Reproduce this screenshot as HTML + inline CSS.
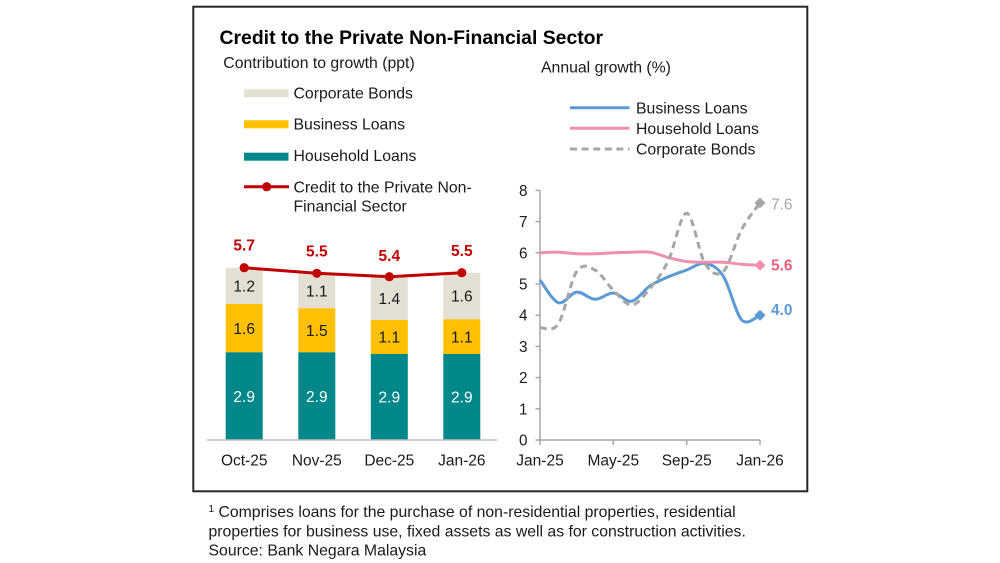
<!DOCTYPE html>
<html>
<head>
<meta charset="utf-8">
<style>
  html, body { margin: 0; padding: 0; background: #ffffff; }
  body { width: 1000px; height: 563px; overflow: hidden; }
  svg { display: block; font-family: "Liberation Sans", Arial, sans-serif; }
</style>
</head>
<body>
<svg width="1000" height="563" viewBox="0 0 1000 563" xmlns="http://www.w3.org/2000/svg">
  <rect x="0" y="0" width="1000" height="563" fill="#ffffff"/>
  <!-- Frame -->
  <rect x="193.3" y="6.7" width="614" height="484.6" fill="none" stroke="#262626" stroke-width="2"/>

  <!-- Title -->
  <text x="219.5" y="44" font-size="19.4" font-weight="bold" fill="#000">Credit to the Private Non-Financial Sector</text>
  <text x="223.3" y="68" font-size="15.8" fill="#1a1a1a">Contribution to growth (ppt)</text>
  <text x="541" y="72.3" font-size="15.8" fill="#1a1a1a">Annual growth (%)</text>

  <!-- Left legend -->
  <rect x="244" y="89.3" width="44.5" height="8" fill="#E4DFD3"/>
  <text x="293.5" y="98.7" font-size="15.8" fill="#1a1a1a">Corporate Bonds</text>
  <rect x="244" y="120.3" width="44.5" height="8" fill="#FFC000"/>
  <text x="293.5" y="129.5" font-size="15.8" fill="#1a1a1a">Business Loans</text>
  <rect x="244" y="152.7" width="44.5" height="8" fill="#00878A"/>
  <text x="293.5" y="161.2" font-size="15.8" fill="#1a1a1a">Household Loans</text>
  <line x1="244" y1="186.7" x2="289" y2="186.7" stroke="#C00000" stroke-width="3"/>
  <circle cx="266.7" cy="186.7" r="4.6" fill="#C00000"/>
  <text x="293.5" y="192.7" font-size="15.8" fill="#1a1a1a">Credit to the Private Non-</text>
  <text x="293.5" y="211.5" font-size="15.8" fill="#1a1a1a">Financial Sector</text>

  <!-- Bars -->
  <!-- Oct-25 -->
  <rect x="225.7" y="267.7" width="37" height="36.3" fill="#E4DFD3"/>
  <rect x="225.7" y="304" width="37" height="48.3" fill="#FFC000"/>
  <rect x="225.7" y="352.3" width="37" height="87.7" fill="#00878A"/>
  <!-- Nov-25 -->
  <rect x="298.3" y="273.3" width="37" height="35" fill="#E4DFD3"/>
  <rect x="298.3" y="308.3" width="37" height="44" fill="#FFC000"/>
  <rect x="298.3" y="352.3" width="37" height="87.7" fill="#00878A"/>
  <!-- Dec-25 -->
  <rect x="370.8" y="276.7" width="37" height="43.3" fill="#E4DFD3"/>
  <rect x="370.8" y="320" width="37" height="34" fill="#FFC000"/>
  <rect x="370.8" y="354" width="37" height="86" fill="#00878A"/>
  <!-- Jan-26 -->
  <rect x="443.3" y="272.7" width="37" height="46.6" fill="#E4DFD3"/>
  <rect x="443.3" y="319.3" width="37" height="34.7" fill="#FFC000"/>
  <rect x="443.3" y="354" width="37" height="86" fill="#00878A"/>

  <!-- Bar value labels -->
  <g font-size="15.5" text-anchor="middle" fill="#1a1a1a">
    <text x="244.2" y="291.6">1.2</text>
    <text x="244.2" y="333.8">1.6</text>
    <text x="316.8" y="296.5">1.1</text>
    <text x="316.8" y="335.9">1.5</text>
    <text x="389.3" y="304.1">1.4</text>
    <text x="389.3" y="342.6">1.1</text>
    <text x="461.8" y="301.7">1.6</text>
    <text x="461.8" y="342.3">1.1</text>
  </g>
  <g font-size="15.5" text-anchor="middle" fill="#ffffff">
    <text x="244.2" y="401.8">2.9</text>
    <text x="316.8" y="401.8">2.9</text>
    <text x="389.3" y="402.6">2.9</text>
    <text x="461.8" y="402.6">2.9</text>
  </g>

  <!-- Left axis -->
  <line x1="207" y1="440" x2="497" y2="440" stroke="#BFBFBF" stroke-width="1.5"/>
  <g font-size="15.5" text-anchor="middle" fill="#1a1a1a">
    <text x="244.2" y="465.5">Oct-25</text>
    <text x="316.8" y="465.5">Nov-25</text>
    <text x="389.3" y="465.5">Dec-25</text>
    <text x="461.8" y="465.5">Jan-26</text>
  </g>

  <!-- Red line -->
  <polyline points="244.2,267.7 316.8,273.3 389.3,276.7 461.8,272.7" fill="none" stroke="#C00000" stroke-width="3"/>
  <g fill="#C00000">
    <circle cx="244.2" cy="267.7" r="4.6"/>
    <circle cx="316.8" cy="273.3" r="4.6"/>
    <circle cx="389.3" cy="276.7" r="4.6"/>
    <circle cx="461.8" cy="272.7" r="4.6"/>
  </g>
  <g font-size="15.5" font-weight="bold" text-anchor="middle" fill="#C00000">
    <text x="244.2" y="250.5">5.7</text>
    <text x="316.8" y="256.5">5.5</text>
    <text x="389.3" y="261">5.4</text>
    <text x="461.8" y="256">5.5</text>
  </g>

  <!-- Right legend -->
  <line x1="570" y1="107.7" x2="629.5" y2="107.7" stroke="#5B9BD5" stroke-width="3"/>
  <text x="636" y="113.3" font-size="15.8" fill="#1a1a1a">Business Loans</text>
  <line x1="570" y1="128.3" x2="629.5" y2="128.3" stroke="#F28FAD" stroke-width="3"/>
  <text x="636" y="134" font-size="15.8" fill="#1a1a1a">Household Loans</text>
  <line x1="570" y1="149" x2="629.5" y2="149" stroke="#A6A6A6" stroke-width="3" stroke-dasharray="7,4.6"/>
  <text x="636" y="154.7" font-size="15.8" fill="#1a1a1a">Corporate Bonds</text>

  <!-- Right axes -->
  <g stroke="#A6A6A6" stroke-width="1.5">
    <line x1="540" y1="190.4" x2="540" y2="440"/>
    <line x1="540" y1="440" x2="760" y2="440"/>
    <line x1="535.5" y1="440" x2="540" y2="440"/>
    <line x1="535.5" y1="408.8" x2="540" y2="408.8"/>
    <line x1="535.5" y1="377.6" x2="540" y2="377.6"/>
    <line x1="535.5" y1="346.4" x2="540" y2="346.4"/>
    <line x1="535.5" y1="315.2" x2="540" y2="315.2"/>
    <line x1="535.5" y1="284" x2="540" y2="284"/>
    <line x1="535.5" y1="252.8" x2="540" y2="252.8"/>
    <line x1="535.5" y1="221.6" x2="540" y2="221.6"/>
    <line x1="535.5" y1="190.4" x2="540" y2="190.4"/>
    <line x1="540" y1="440" x2="540" y2="445"/>
    <line x1="613.3" y1="440" x2="613.3" y2="445"/>
    <line x1="686.7" y1="440" x2="686.7" y2="445"/>
    <line x1="760" y1="440" x2="760" y2="445"/>
  </g>
  <g font-size="15.3" text-anchor="end" fill="#1a1a1a">
    <text x="527.5" y="445.5">0</text>
    <text x="527.5" y="414.3">1</text>
    <text x="527.5" y="383.1">2</text>
    <text x="527.5" y="351.9">3</text>
    <text x="527.5" y="320.7">4</text>
    <text x="527.5" y="289.5">5</text>
    <text x="527.5" y="258.3">6</text>
    <text x="527.5" y="227.1">7</text>
    <text x="527.5" y="195.9">8</text>
  </g>
  <g font-size="15.5" text-anchor="middle" fill="#1a1a1a">
    <text x="540" y="465.5">Jan-25</text>
    <text x="613.3" y="465.5">May-25</text>
    <text x="686.7" y="465.5">Sep-25</text>
    <text x="760" y="465.5">Jan-26</text>
  </g>

  <!-- Series -->
  <path d="M540,279.9 C543.06,283.7 552.22,300.67 558.33,302.7 C564.44,304.73 570.56,292.67 576.67,292.1 C582.78,291.53 588.89,299.15 595,299.3 C601.11,299.45 607.22,292.68 613.33,293.0 C619.44,293.32 625.56,302.38 631.67,301.2 C637.78,300.02 643.89,289.97 650,285.9 C656.11,281.83 662.22,279.45 668.33,276.8 C674.44,274.15 680.56,272.23 686.67,270.0 C692.78,267.77 698.89,262.37 705,263.4 C711.11,264.43 717.22,266.78 723.33,276.2 C729.44,285.62 735.56,313.4 741.67,319.9 C747.78,326.4 756.94,315.98 760,315.2" fill="none" stroke="#5B9BD5" stroke-width="3"/>
  <path d="M540,252.8 C543.06,252.7 552.22,252.05 558.33,252.2 C564.44,252.35 570.56,253.45 576.67,253.7 C582.78,253.95 588.89,253.85 595,253.7 C601.11,253.55 607.22,253.05 613.33,252.8 C619.44,252.55 625.56,252.3 631.67,252.2 C637.78,252.1 643.89,251.32 650,252.2 C656.11,253.08 662.22,255.95 668.33,257.5 C674.44,259.05 680.56,260.72 686.67,261.5 C692.78,262.28 698.89,262.08 705,262.2 C711.11,262.32 717.22,261.85 723.33,262.2 C729.44,262.55 735.56,263.78 741.67,264.3 C747.78,264.82 756.94,265.13 760,265.3" fill="none" stroke="#F28FAD" stroke-width="3"/>
  <path d="M540,327.7 C543.06,327.07 552.22,333.27 558.33,323.9 C564.44,314.53 570.56,280.48 576.67,271.5 C582.78,262.52 588.89,266.88 595,270.0 C601.11,273.12 607.22,284.38 613.33,290.2 C619.44,296.02 625.56,305.2 631.67,304.9 C637.78,304.6 643.89,295.78 650,288.4 C656.11,281.02 662.22,273.13 668.33,260.6 C674.44,248.07 680.56,212.73 686.67,213.2 C692.78,213.67 698.89,253.68 705,263.4 C711.11,273.12 717.22,277.17 723.33,271.5 C729.44,265.83 735.56,240.83 741.67,229.4 C747.78,217.97 756.94,207.32 760,202.9" fill="none" stroke="#A6A6A6" stroke-width="3" stroke-dasharray="7,4.6"/>

  <!-- End markers -->
  <polygon points="760,197.4 765.5,202.9 760,208.4 754.5,202.9" fill="#A6A6A6"/>
  <polygon points="760,259.8 765.5,265.3 760,270.8 754.5,265.3" fill="#F28FAD"/>
  <polygon points="760,309.7 765.5,315.2 760,320.7 754.5,315.2" fill="#5B9BD5"/>
  <text x="771" y="209.5" font-size="15.5" fill="#A6A6A6">7.6</text>
  <text x="771" y="270.6" font-size="15.5" font-weight="bold" fill="#E8607F">5.6</text>
  <text x="771" y="315" font-size="15.5" font-weight="bold" fill="#5B9BD5">4.0</text>

  <!-- Footnote -->
  <text x="208.5" y="517" font-size="15.8" fill="#1a1a1a"><tspan font-size="10" dy="-5">1</tspan><tspan dy="5"> Comprises loans for the purchase of non-residential properties, residential</tspan></text>
  <text x="208.5" y="536.5" font-size="15.8" fill="#1a1a1a">properties for business use, fixed assets as well as for construction activities.</text>
  <text x="208.5" y="555.5" font-size="15.8" fill="#1a1a1a">Source: Bank Negara Malaysia</text>
</svg>
</body>
</html>
